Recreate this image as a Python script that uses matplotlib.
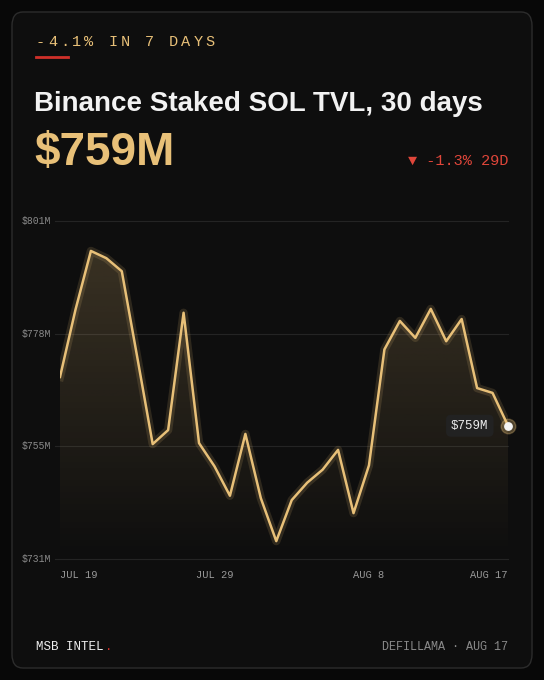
import numpy as np
import matplotlib.pyplot as plt
from matplotlib.patches import FancyBboxPatch
import matplotlib.dates as mdates
import pandas as pd

plt.rcParams['font.family'] = ['Liberation Sans', 'DejaVu Sans']

dates = pd.date_range('2024-07-19', '2024-08-17', freq='D')
tvl = [768.7, 782.6, 794.8, 793.3, 790.6, 772.8, 754.8, 757.7, 782.0, 755.0,
       750.2, 744.1, 756.9, 743.6, 734.7, 743.2, 746.8, 749.5, 753.6, 740.5,
       750.4, 774.4, 780.3, 776.8, 782.8, 776.1, 780.7, 766.4, 765.4, 758.6]
yticks = [731, 731 + 70/3, 731 + 140/3, 801]
ytick_labels = ['$731M', '$755M', '$778M', '$801M']
xticks = ['2024-07-19', '2024-07-29', '2024-08-08', '2024-08-17']
xtick_labels = ['JUL 19', 'JUL 29', 'AUG 8', 'AUG 17']
xtick_ha = ['left', 'center', 'center', 'right']

gold = '#e8c078'
mono = 'Liberation Mono'

fig = plt.figure(figsize=(5.44, 6.8), dpi=100)
fig.patch.set_facecolor('#080808')
card = FancyBboxPatch((12/544, 12/680), 520/544, 656/680,
                      boxstyle='round,pad=0,rounding_size=0.02',
                      transform=fig.transFigure, facecolor='#0e0e0e',
                      edgecolor='#2c2c2c', linewidth=1, zorder=-10)
fig.patches.append(card)

# letter-spaced kicker
for i, ch in enumerate('-4.1% IN 7 DAYS'):
    fig.text((36 + i * 12.1)/544, 1-42/680, ch, color=gold, family=mono,
             fontsize=11, va='center')
fig.add_artist(plt.Line2D([36/544, 68/544], [1-57/680]*2, color='#d0302a', lw=2))
fig.text(34/544, 1-104/680, 'Binance Staked SOL TVL, 30 days', color='#f2f2f2',
         fontsize=20, fontweight='bold', va='center')
fig.text(34/544, 1-153/680, '$759M', color=gold, fontsize=33,
         fontweight='bold', va='center')
fig.text(508/544, 1-161/680, '▼ -1.3% 29D', color='#e0463a', family=[mono, 'DejaVu Sans'],
         fontsize=11, va='center', ha='right')
fig.text(36/544, 1-647/680, 'MSB INTEL', color='#eeeeee', family=mono,
         fontsize=9, va='center')
fig.text(105/544, 1-647/680, '.', color='#d0302a', family=mono, fontsize=9, va='center')
fig.text(508/544, 1-647/680, 'DEFILLAMA · AUG 17', color='#8a8a8a', family=mono,
         fontsize=8.5, va='center', ha='right')

ax = fig.add_axes([60/544, 1-559/680, 448/544, 338/680])
ax.set_facecolor('none')
ax.set_xlim(dates[0], dates[-1])
ax.set_ylim(731, 801)
for s in ax.spines.values():
    s.set_visible(False)
ax.set_yticks([])
ax.set_xticks([])
for y, lab in zip(yticks, ytick_labels):
    ax.axhline(y, color='#242424', lw=0.8, xmin=-0.012, clip_on=False, zorder=0)
    ax.text(-38/448, y, lab, transform=ax.get_yaxis_transform(), color='#8a8a8a',
            family=mono, fontsize=7, va='center', ha='left')
for d, lab, ha in zip(xticks, xtick_labels, xtick_ha):
    ax.text(pd.Timestamp(d), 727.6, lab, color='#999999', family=mono,
            fontsize=7.5, ha=ha, va='center')

# gradient fill under the line
x = mdates.date2num(dates)
grad = np.linspace(0, 1, 256).reshape(-1, 1)
rgba = np.zeros((256, 1, 4))
rgba[..., 0] = 232/255
rgba[..., 1] = 192/255
rgba[..., 2] = 120/255
rgba[..., 3] = grad * 0.22
im = ax.imshow(rgba, aspect='auto', extent=[x[0], x[-1], 731, 801],
               origin='lower', zorder=1)
poly = ax.fill_between(dates, tvl, 731, color='none')
im.set_clip_path(poly.get_paths()[0], transform=ax.transData)

ax.plot(dates, tvl, color=gold, lw=6, alpha=0.15, zorder=2)
ax.plot(dates, tvl, color=gold, lw=1.8, zorder=3)
ax.scatter([dates[-1]], [tvl[-1]], s=110, color=gold, alpha=0.3, zorder=4, clip_on=False)
ax.scatter([dates[-1]], [tvl[-1]], s=28, color='#f4f4f4', zorder=5, clip_on=False)
ax.annotate('$759M', (dates[-1], tvl[-1]), xytext=(-14, 0), textcoords='offset points',
            color='#eeeeee', family=mono, fontsize=9, ha='right', va='center', zorder=6,
            bbox=dict(boxstyle='round,pad=0.4', fc='#222222', ec='none'))

fig.savefig('out.png', dpi=100, facecolor=fig.get_facecolor())
